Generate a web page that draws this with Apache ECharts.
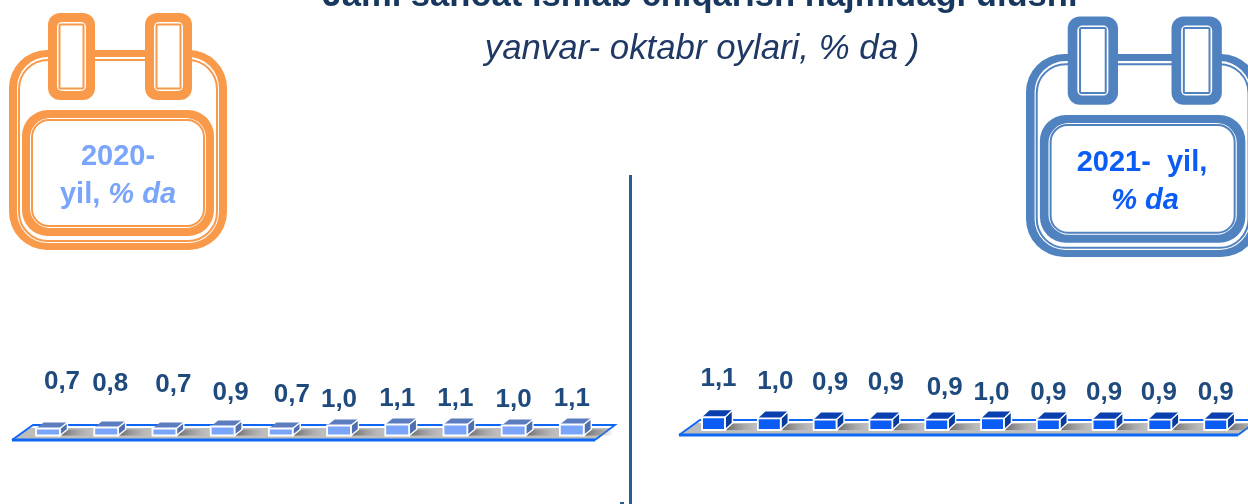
<!DOCTYPE html>
<html><head><meta charset="utf-8">
<style>html,body{margin:0;padding:0;background:#fff}#c{width:1248px;height:504px}</style>
<script src="https://cdn.jsdelivr.net/npm/echarts@6/dist/echarts.min.js"></script>
</head><body><div id="c"></div>
<script>
const periods = ['1','2','3','4','5','6','7','8','9','10'];
const values2020 = [0.7,0.8,0.7,0.9,0.7,1.0,1.1,1.1,1.0,1.1];
const values2021 = [1.1,1.0,0.9,0.9,0.9,1.0,0.9,0.9,0.9,0.9];
const titleText = 'Jami sanoat ishlab chiqarish hajmidagi ulushi';
const subtitleText = 'yanvar- oktabr oylari, % da )';

// hand-placed label offsets seen in the picture (px from bar centre / baseline)
const labelDx2020 = [14,4,9,8,11,0,0,0,0,0];
const labelLift2020 = [54,52,51,43,41,36,37,37,36,37];
const labelDx2021 = [5,6,5,5,8,-1,0,0,-1,0];
const labelLift2021 = [51,48,47,47,42,37,37,37,37,37];

const GREY='#bdbdbd';
function boxSeries(idx, vals, dxs, lifts, c){
  return {
    type:'custom', xAxisIndex:idx, yAxisIndex:idx, clip:false, silent:true,
    data: vals.map((v,i)=>[i,v]),
    encode:{x:0,y:1},
    renderItem(params, api){
      const i=api.value(0), v=api.value(1);
      const top=api.coord([i,v]), base=api.coord([i,0]);
      const w=api.size([1,0])[0]*0.41;
      const x0=top[0]-w/2, x1=top[0]+w/2, y0=top[1], y1=base[1];
      const d=7.5, dh=c.dh;
      const fmt=v.toFixed(1).replace('.',',');
      return {type:'group',children:[
        {type:'rect',shape:{x:x1+2,y:y1-6,width:28,height:6},
          style:{fill:{type:'linear',x:0,y:0,x2:1,y2:0,colorStops:[{offset:0,color:'#6e6e6e'},{offset:1,color:'rgba(150,150,150,0)'}]}}},
        {type:'polygon',shape:{points:[[x0,y0],[x1,y0],[x1+d,y0-dh],[x0+d,y0-dh]]},style:{fill:c.top}},
        {type:'polygon',shape:{points:[[x1,y0],[x1+d,y0-dh],[x1+d,y1-dh],[x1,y1]]},style:{fill:c.side,stroke:'#fff',lineWidth:1.4}},
        {type:'rect',shape:{x:x0,y:y0,width:w,height:y1-y0},style:{fill:c.front,stroke:'#fff',lineWidth:1.8}},
        {type:'text',style:{text:fmt,x:top[0]+dxs[i],y:y1-lifts[i],align:'center',verticalAlign:'middle',
          fontFamily:'Liberation Sans',fontWeight:'bold',fontSize:26,fill:'#1f4a7e'}}
      ]};
    }
  };
}
function calendar(ox,oy,sx,sy,col,ring2){
  const X=v=>ox+(v-9)*sx, Y=v=>oy+(v-50)*sy;
  const rr=(x,y,x2,y2,r,fill,stroke,lw)=>({type:'rect',z:5,shape:{x:X(x),y:Y(y),width:(x2-x)*sx,height:(y2-y)*sy,r},
     style:{fill:fill,stroke:stroke||null,lineWidth:lw||0}});
  const out=[
    rr(9,50,227,250,38,col),
    rr(17,57,219,243,31,'#fff'),
    rr(19,60,217,241,29,'#fff',col,2),
    rr(22,110,214,236,26,col),
    rr(30,118,206,228,20,'#fff'),
    rr(32,120,204,226,17,'#fff',col,2)
  ];
  [48,ring2].forEach(x=>{
    out.push(rr(x,13,x+47,100,12,col));
    out.push(rr(x+9,22,x+38,91,5,'#fff'));
    out.push(rr(x+11.5,24.5,x+35.5,88.5,1,'#fff',col,2));
  });
  return out;
}
function platform(a,c,yTop,yBot){
  return [
    {type:'polygon',z:1,shape:{points:[[a,yBot],[c-20,yBot],[c-4,yTop+3],[a+18,yTop+3]]},style:{fill:GREY}},
    {type:'polyline',z:1,shape:{points:[[a,yBot],[a+21,yTop],[c,yTop],[c-20,yBot]]},style:{fill:'none',stroke:'#0f66f2',lineWidth:1.8}},
    {type:'line',z:1,shape:{x1:a,y1:yBot,x2:c-20,y2:yBot},style:{stroke:'#0f66f2',lineWidth:3}}
  ];
}
const txt=(t,x,y,extra)=>({type:'text',z:6,style:Object.assign({text:t,x,y,align:'center',verticalAlign:'middle',fontFamily:'Liberation Sans',fontWeight:'bold',fontSize:29},extra)});

const chart=echarts.init(document.getElementById('c'));
chart.setOption({
  backgroundColor:'#fff',animation:false,
  title:[
    {text:titleText,left:695,top:-26,textAlign:'center',textStyle:{fontFamily:'Liberation Sans',fontWeight:'bold',fontSize:34.6,color:'#17375e'}},
    {text:subtitleText,left:697,top:27,textAlign:'center',textStyle:{fontFamily:'Liberation Sans',fontStyle:'italic',fontWeight:'normal',fontSize:34.8,color:'#1f3864'}}
  ],
  grid:[
    {left:18.9,width:582,top:335.5,height:100},
    {left:685.6,width:558,top:314,height:116}
  ],
  xAxis:[0,1].map(g=>({type:'category',gridIndex:g,data:periods,show:false})),
  yAxis:[0,1].map(g=>({type:'value',gridIndex:g,min:0,max:10,show:false})),
  series:[
    boxSeries(0,values2020,labelDx2020,labelLift2020,{front:'#7aa5fb',top:'#5b7dc0',side:'#4f6fae',dh:6}),
    boxSeries(1,values2021,labelDx2021,labelLift2021,{front:'#0a5cf5',top:'#0a3fb0',side:'#083c9c',dh:7})
  ],
  graphic:{elements:[
    ...platform(12,615,425,440),
    ...platform(679,1258,420,435),
    {type:'rect',z:1,shape:{x:629,y:175,width:3,height:329},style:{fill:'#2f5b94'}},
    {type:'rect',z:1,shape:{x:620,y:502,width:4,height:2},style:{fill:'#2f5b94'}},
    ...calendar(9,50,1,1,'#f99a4b',145),
    ...calendar(1026,54,1.07,1.015,'#5082bf',145),
    txt('2020-',118,157,{fill:'#7aa5fb'}),
    {type:'text',z:6,style:{text:'{a|yil, }{b|% da}',x:118,y:195,align:'center',verticalAlign:'middle',
      rich:{a:{fontFamily:'Liberation Sans',fontWeight:'bold',fontSize:29,fill:'#7aa5fb'},b:{fontFamily:'Liberation Sans',fontWeight:'bold',fontStyle:'italic',fontSize:29,fill:'#7aa5fb'}}}},
    txt('2021-  yil,',1142,163,{fill:'#0a5cf5'}),
    txt('% da',1145,201,{fill:'#0a5cf5',fontStyle:'italic'})
  ]}
});
</script></body></html>
